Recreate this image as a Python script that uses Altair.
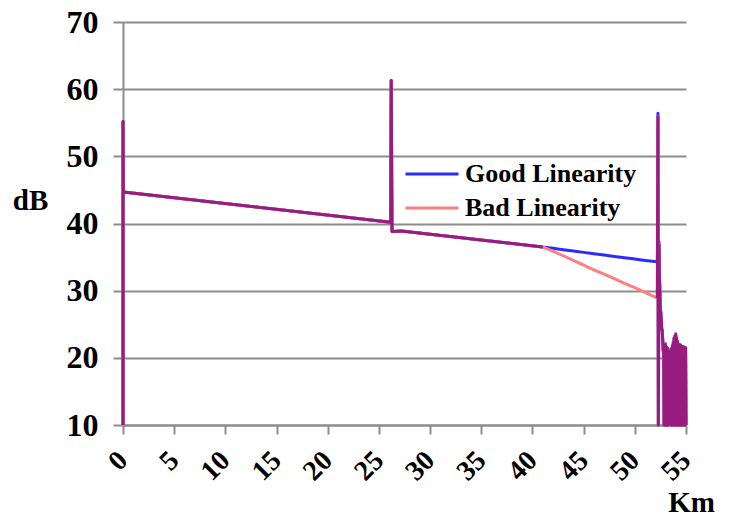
import altair as alt
import numpy as np
import pandas as pd

FONT = "Liberation Serif"
GRAY = "#8c8c8c"

# OTDR trace: distance along the fibre (km)
km = [
    0, 0, 0.03, 26.15, 26.2, 26.28, 27.2, 41.0,
    42, 43, 44, 45, 46, 47, 48, 49, 50, 51, 52.2,
    52.26, 52.30, 52.36, 52.40, 52.44, 52.48, 52.53, 52.58, 52.63, 52.68,
    52.73, 52.78, 52.82, 52.86, 52.92, 52.96, 53.00, 53.04, 53.08, 53.12,
    53.16, 53.20, 53.24, 53.28, 53.32, 53.38, 53.46, 53.52, 53.56,
    53.60, 53.64, 53.68, 53.72, 53.76, 53.80, 53.84, 53.88, 53.92, 53.96,
    54.00, 54.04, 54.08, 54.12, 54.16, 54.20, 54.24, 54.28, 54.32, 54.36,
    54.40, 54.44, 54.48, 54.52, 54.56, 54.60, 54.64, 54.68, 54.72, 54.76,
    54.80, 54.84, 54.88, 54.92, 54.96, 55.00,
]

# receiver with good linearity (dB)
good_db = [
    10, 55.2, 44.7, 40.2, 61.3, 38.8, 38.9, 36.5,
    36.3, 36.1, 35.9, 35.7, 35.5, 35.3, 35.1, 34.9, 34.7, 34.5, 34.3,
    56.4, 10, 37.3, 32.0, 30.5, 27.5, 26.8, 25.5, 24.3, 24.0,
    22.5, 21.0, 20.5, 10, 21.8, 10, 22.1, 10, 21.6, 10,
    21.5, 10, 21.3, 10, 21.0, 20.8, 20.6, 20.8, 10,
    21.4, 10, 21.8, 10, 22.3, 10, 22.9, 10, 23.2, 10,
    23.6, 10, 23.0, 10, 22.5, 10, 22.1, 10, 21.9, 10,
    21.7, 10, 21.9, 10, 21.6, 10, 21.7, 10, 21.5, 10,
    21.6, 10, 21.4, 10, 21.5, 10,
]

# receiver with bad linearity (dB)
bad_db = [
    10, 55.2, 44.7, 40.2, 61.3, 38.8, 38.9, 36.5,
    35.9, 35.2, 34.5, 33.8, 33.1, 32.45, 31.8, 31.1, 30.45, 29.75, 28.9,
    55.9, 10, 36.8, 32.0, 30.5, 27.5, 26.8, 25.5, 24.3, 24.0,
    22.5, 21.0, 20.5, 10, 21.8, 10, 21.9, 10, 21.6, 10,
    21.5, 10, 21.3, 10, 21.0, 20.8, 20.6, 20.8, 10,
    21.4, 10, 21.8, 10, 22.3, 10, 22.9, 10, 23.2, 10,
    23.4, 10, 23.0, 10, 22.5, 10, 22.1, 10, 21.9, 10,
    21.7, 10, 21.9, 10, 21.6, 10, 21.7, 10, 21.5, 10,
    21.6, 10, 21.4, 10, 21.5, 10,
]

series_names = ["Good Linearity", "Bad Linearity"]
series_colors = ["#2b2bff", "#ff7f7f"]
shared_color = "#981b80"

x_ticks = list(range(0, 56, 5))
y_ticks = list(range(10, 71, 10))

base = pd.DataFrame({"km": km, "good": good_db, "bad": bad_db})
base["idx"] = np.arange(len(base))

traces = base.melt(id_vars=["km", "idx"], value_vars=["good", "bad"],
                   var_name="key", value_name="db")
traces["series"] = traces["key"].map({"good": series_names[0], "bad": series_names[1]})

# stretches where both receivers give the same trace
shared = base.assign(
    part=np.where(base["km"] <= 41, "head", np.where(base["km"] >= 52.2, "tail", ""))
)
shared = shared[shared["part"] != ""].rename(columns={"bad": "db"})

x_enc = alt.X(
    "km:Q",
    scale=alt.Scale(domain=[0, 55], nice=False, zero=False),
    axis=alt.Axis(
        values=x_ticks, grid=False, labelAngle=-45, labelAlign="right",
        labelBaseline="middle", labelPadding=22, labelFont=FONT,
        labelFontSize=28, labelFontWeight="bold", labelColor="black",
        labelOverlap=False, labelFlush=False, labelBound=False,
        tickSize=9, tickWidth=2, tickColor=GRAY,
        domainColor=GRAY, domainWidth=2,
        title="Km", titleFont=FONT, titleFontSize=29, titleFontWeight="bold",
        titleColor="black", titleX=568, titleY=86, titleAlign="center",
        titleBaseline="alphabetic",
    ),
)
y_enc = alt.Y(
    "db:Q",
    scale=alt.Scale(domain=[10, 70], nice=False, zero=False),
    axis=alt.Axis(
        values=y_ticks, grid=True, gridColor=GRAY, gridWidth=2,
        labelPadding=15, labelFont=FONT, labelFontSize=32,
        labelFontWeight="bold", labelColor="black", labelFlush=False,
        tickSize=10, tickWidth=2, tickColor=GRAY,
        domainColor=GRAY, domainWidth=2,
        title="dB", titleFont=FONT, titleFontSize=29, titleFontWeight="bold",
        titleColor="black", titleAngle=0, titleX=-93, titleY=178,
        titleAlign="center", titleBaseline="middle",
    ),
)

lines = alt.Chart(traces).mark_line(strokeWidth=3, strokeJoin="round").encode(
    x=x_enc,
    y=y_enc,
    order="idx:Q",
    color=alt.Color(
        "series:N",
        scale=alt.Scale(domain=series_names, range=series_colors),
        legend=alt.Legend(
            title=None, orient="none", legendX=294, legendY=137,
            symbolType="M-2,0H2", symbolSize=702, symbolStrokeWidth=3,
            labelFont=FONT, labelFontSize=26, labelFontWeight="bold",
            labelColor="black", labelOffset=18, labelLimit=400,
            padding=0, rowPadding=6,
        ),
    ),
)

overlap = alt.Chart(shared).mark_line(
    color=shared_color, strokeWidth=3, strokeJoin="round"
).encode(x=x_enc, y=y_enc, detail="part:N", order="idx:Q")

chart = (
    alt.layer(lines, overlap)
    .properties(
        width=563, height=403,
        autosize=alt.AutoSizeParams(type="none"),
        padding={"left": 123, "top": 22, "right": 48, "bottom": 91},
        background="white",
    )
    .configure_view(stroke=None)
)

chart.save("out.html", embed_options={"renderer": "svg", "actions": False})
